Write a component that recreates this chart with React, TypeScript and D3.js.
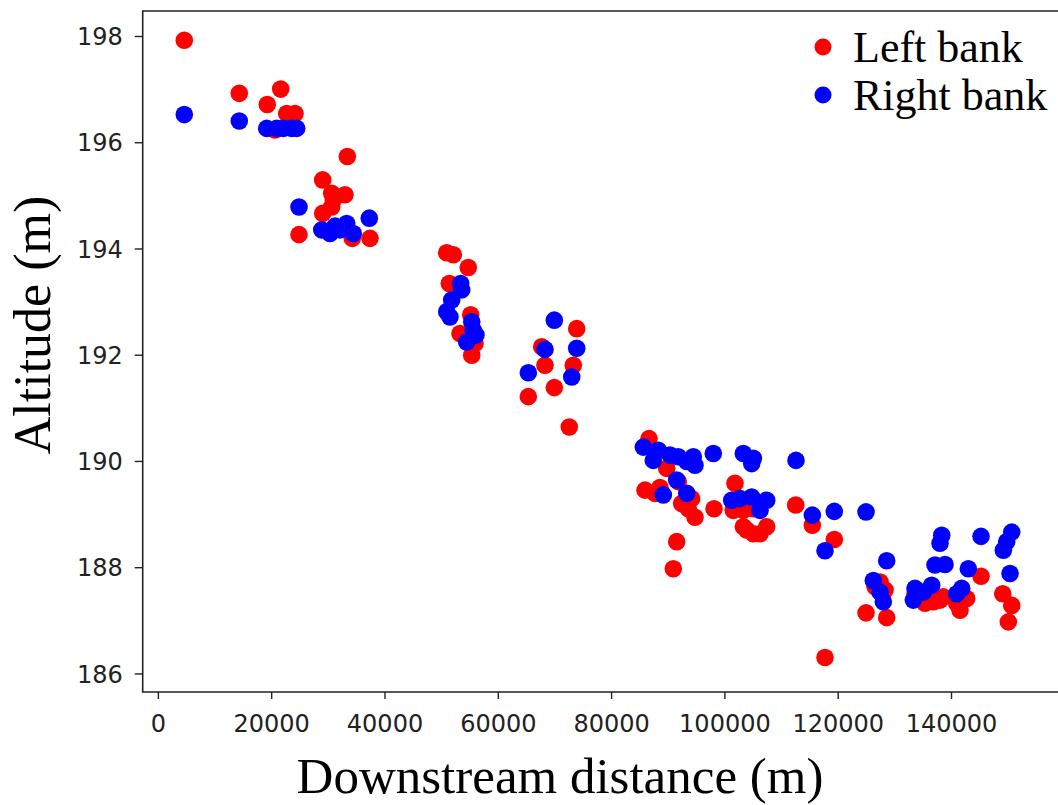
import React from "react";
import * as d3 from "d3";

const leftX = [4570,14280,21590,19220,22650,24110,20580,33350,29000,30590,32940,30870,29000,30590,24820,34230,37350,
50890,52060,54700,51350,55130,53240,55890,55310,73840,67660,68240,73240,69890,65300,72530,
86600,89730,91770,85900,88540,87660,94140,92370,93540,94720,98080,101780,101480,103250,105020,103850,105020,106200,107380,103250,91490,90890,
112500,115430,119310,117670,124910,126510,127390,128270,128560,133560,135320,136790,137970,138550,142680,141500,140920,145210,149040,150630,150030];
const leftAlt = [197.93,196.93,197.01,196.72,196.55,196.55,196.24,195.74,195.30,195.05,195.02,194.92,194.67,194.79,194.27,194.20,194.20,
193.93,193.89,193.65,193.35,192.76,192.41,192.22,192.00,192.50,192.16,191.81,191.81,191.39,191.22,190.65,
190.43,189.87,189.62,189.46,189.51,189.40,189.30,189.21,189.11,188.95,189.11,189.59,189.08,189.08,189.11,188.71,188.64,188.64,188.77,188.77,188.49,187.98,
189.18,188.80,188.53,186.31,187.15,187.64,187.73,187.58,187.06,187.51,187.33,187.36,187.39,187.45,187.42,187.20,187.33,187.84,187.51,187.29,186.98];

const rightX = [4570,14280,19120,20880,22050,23530,24410,24820,37230,28830,30290,32060,33240,34400,31170,
53360,53540,51770,50890,51470,55310,55590,54420,56060,69890,68240,73840,65300,72960,
85600,88240,87360,90310,91770,93260,94420,94720,97950,103250,105020,104730,112550,91490,89130,93260,101200,102670,104730,107380,106200,
115430,119310,117670,124910,128560,126200,127960,127390,133560,133260,136500,135020,138270,137970,137090,138850,142970,141800,140920,145210,150630,149740,149150,150330];
const rightAlt = [196.53,196.41,196.27,196.27,196.27,196.27,196.27,194.79,194.58,194.36,194.29,194.36,194.48,194.29,194.43,
193.35,193.23,193.04,192.82,192.72,192.63,192.47,192.25,192.38,192.66,192.11,192.13,191.67,191.59,
190.27,190.21,190.02,190.12,190.09,190.00,190.09,189.93,190.15,190.15,190.06,189.96,190.02,189.65,189.37,189.40,189.27,189.30,189.33,189.27,189.08,
188.99,189.06,188.32,189.05,188.13,187.76,187.36,187.54,187.61,187.39,187.67,187.54,188.61,188.46,188.05,188.06,187.98,187.61,187.51,188.59,188.67,188.49,188.33,187.89];

const xTicks = [0,20000,40000,60000,80000,100000,120000,140000];
const yTicks = [186,188,190,192,194,196,198];
const seriesNames = ["Left bank","Right bank"];
const seriesColors = ["#ff0000","#0000ff"];

export default function App() {
  const W = 1058, H = 805;
  const L = 142.7, R = 1060, T = 11, B = 692;
  const x = d3.scaleLinear().domain([-2770, 159150]).range([L, R]);
  const y = d3.scaleLinear().domain([185.66, 198.48]).range([B, T]);
  const left = d3.zip(leftX, leftAlt);
  const right = d3.zip(rightX, rightAlt);
  const tickFont = "'DejaVu Sans', sans-serif";
  const serif = "'Liberation Serif', 'Times New Roman', serif";
  return (
    <svg width={W} height={H} style={{ position: "absolute", left: 0, top: 0, background: "#fff" }}>
      <rect x={0} y={0} width={W} height={H} fill="#fff" />
      <g>
        {left.map(([a, b], i) => (
          <circle key={"l" + i} cx={x(a)} cy={y(b)} r={8.8} fill={seriesColors[0]} />
        ))}
        {right.map(([a, b], i) => (
          <circle key={"r" + i} cx={x(a)} cy={y(b)} r={8.8} fill={seriesColors[1]} />
        ))}
      </g>
      <path d={`M${R},${T}H${L}V${B}H${R}`} fill="none" stroke="#222" strokeWidth={1.6} />
      {xTicks.map((t) => (
        <g key={"xt" + t} transform={`translate(${x(t)},0)`}>
          <line y1={B} y2={B + 7} stroke="#222" strokeWidth={1.4} />
          <text y={B + 40} textAnchor="middle" fontFamily={tickFont} fontSize={24} fill="#222">{t}</text>
        </g>
      ))}
      {yTicks.map((t) => (
        <g key={"yt" + t} transform={`translate(0,${y(t)})`}>
          <line x1={L - 8} x2={L} stroke="#222" strokeWidth={1.4} />
          <text x={L - 20} dy="0.36em" textAnchor="end" fontFamily={tickFont} fontSize={24} fill="#222">{t}</text>
        </g>
      ))}
      <text x={560} y={793} textAnchor="middle" fontFamily={serif} fontSize={51} fill="#000">Downstream distance (m)</text>
      <text transform="translate(50,325) rotate(-90)" textAnchor="middle" fontFamily={serif} fontSize={52} fill="#000">Altitude (m)</text>
      {seriesNames.map((n, i) => (
        <g key={n}>
          <circle cx={823} cy={47 + i * 48} r={8.5} fill={seriesColors[i]} />
          <text x={853} y={62 + i * 48} fontFamily={serif} fontSize={44} fill="#000">{n}</text>
        </g>
      ))}
    </svg>
  );
}
